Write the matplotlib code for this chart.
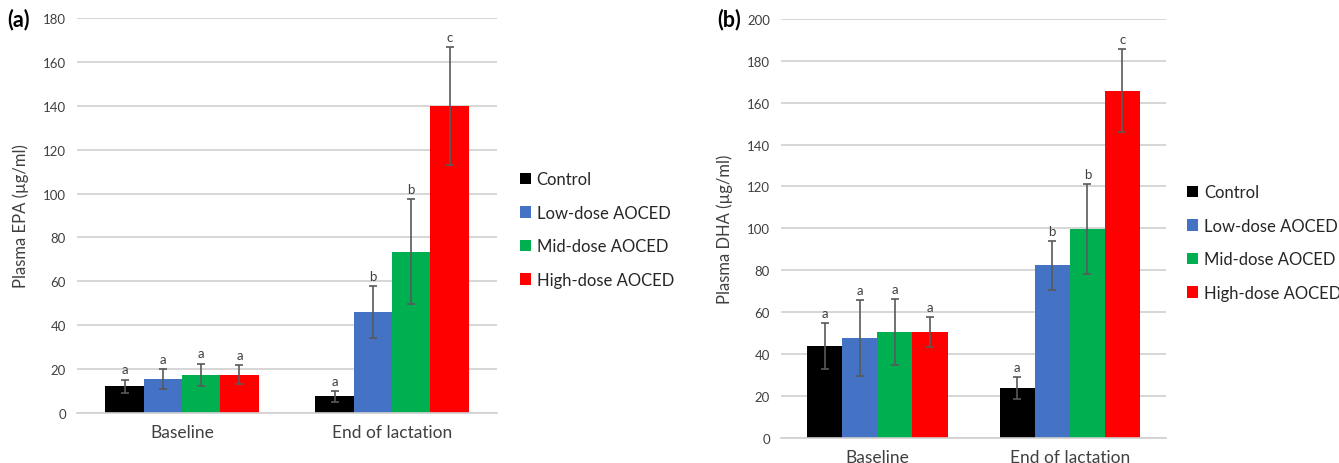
import matplotlib.pyplot as plt
import numpy as np

plt.rcParams['font.family'] = ['Lato', 'DejaVu Sans']

categories = ["Baseline", "End of lactation"]
groups = ["Control", "Low-dose AOCED", "Mid-dose AOCED", "High-dose AOCED"]
colors = ["#000000", "#4472c4", "#00b050", "#ff0000"]

# Plasma EPA (ug/ml): rows = groups, cols = categories
epa_mean = [[12.2, 7.6], [15.5, 45.9], [17.3, 73.6], [17.5, 140.0]]
epa_err = [[3.0, 2.4], [4.6, 11.9], [5.2, 24.0], [4.5, 26.8]]
epa_sig = [["a", "a"], ["a", "b"], ["a", "b"], ["a", "c"]]

# Plasma DHA (ug/ml)
dha_mean = [[43.6, 23.7], [47.6, 82.3], [50.3, 99.7], [50.6, 165.8]]
dha_err = [[11.0, 5.4], [18.2, 11.8], [15.8, 21.6], [7.2, 19.9]]
dha_sig = [["a", "a"], ["a", "b"], ["a", "b"], ["a", "c"]]

fig = plt.figure(figsize=(13.39, 4.64), dpi=100)
ax_a = fig.add_axes([0.0575, 0.1078, 0.3137, 0.851])
ax_b = fig.add_axes([0.5833, 0.0545, 0.2875, 0.9024])


def draw(ax, mean, err, sig, ymax, ylabel, tag, leg_x, leg_y, lab_pad):
    x = np.arange(len(categories))
    w = 0.1825
    for i, g in enumerate(groups):
        pos = x + (i - 1.5) * w
        ax.bar(pos, mean[i], w, color=colors[i], label=g, zorder=2)
        ax.errorbar(pos, mean[i], yerr=err[i], fmt='none', ecolor='#595959',
                    elinewidth=1.2, capsize=3, capthick=1.2, zorder=3)
        for p, m, e, s in zip(pos, mean[i], err[i], sig[i]):
            ax.annotate(s, (p, m + e), xytext=(0, 3), textcoords='offset points',
                        ha='center', va='bottom', fontsize=9.5, color='#404040')
    ax.set_xlim(-0.5, 1.5)
    ax.set_ylim(0, ymax)
    ax.set_yticks(np.arange(0, ymax + 1, 20))
    ax.set_xticks(x)
    ax.set_xticklabels(categories, fontsize=12.5)
    ax.tick_params(axis='both', length=0, colors='#404040')
    ax.tick_params(axis='y', labelsize=9.5, pad=8)
    ax.tick_params(axis='x', pad=lab_pad)
    ax.grid(axis='y', color='#d0d0d0', linewidth=1.2, zorder=0)
    for s in ['top', 'right', 'left']:
        ax.spines[s].set_visible(False)
    ax.spines['bottom'].set_color('#d0d0d0')
    ax.spines['bottom'].set_linewidth(1.2)
    ax.set_ylabel(ylabel, fontsize=12, color='#404040', labelpad=10)
    ax.text(-0.165, 1.0, tag, transform=ax.transAxes, fontsize=15.5,
            fontweight='bold', ha='left', va='center')
    ax.legend(loc='center left', bbox_to_anchor=(leg_x, leg_y),
              bbox_transform=fig.transFigure, frameon=False, fontsize=12,
              handlelength=0.68, handleheight=0.68, handletextpad=0.35,
              labelspacing=1.05, borderpad=0, borderaxespad=0,
              labelcolor='#262626')


draw(ax_a, epa_mean, epa_err, epa_sig, 180, "Plasma EPA (µg/ml)", "(a)",
     0.388, 0.503, 8)
draw(ax_b, dha_mean, dha_err, dha_sig, 200, "Plasma DHA (µg/ml)", "(b)",
     0.8865, 0.475, 8)

fig.savefig("out.png", dpi=100)
